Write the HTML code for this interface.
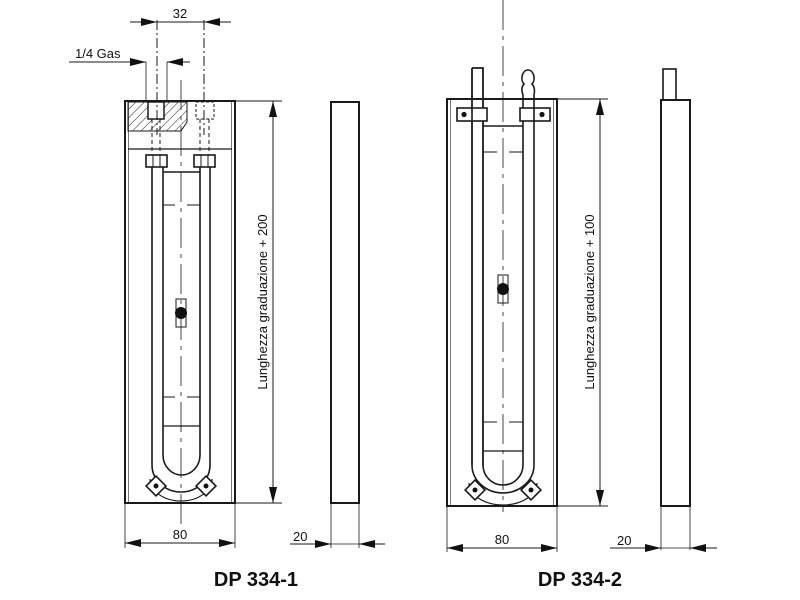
<!DOCTYPE html>
<html><head><meta charset="utf-8"><style>
html,body{margin:0;padding:0;background:#fff;width:800px;height:600px;overflow:hidden}
svg text{font-family:"Liberation Sans",Arial,sans-serif;fill:#111}
</style></head><body>
<svg width="800" height="600" viewBox="0 0 800 600" xmlns="http://www.w3.org/2000/svg">
<defs>
<pattern id="h" width="6" height="6" patternUnits="userSpaceOnUse" patternTransform="rotate(45)">
<line x1="0" y1="0" x2="0" y2="6" stroke="#222" stroke-width="1"/></pattern>
<marker id="a" viewBox="0 0 10 10" refX="10" refY="5" markerWidth="16" markerHeight="9" markerUnits="userSpaceOnUse" orient="auto-start-reverse" preserveAspectRatio="none"><path d="M0,0.5 L10,5 L0,9.5 z" fill="#111"/></marker>
</defs>
<g fill="none" stroke="#1a1a1a">
<!-- ===== DP 334-1 ===== -->
<rect x="125" y="101" width="110" height="402" stroke-width="2"/>
<line x1="128.5" y1="102" x2="128.5" y2="502" stroke-width="1" stroke="#777"/>
<line x1="231.5" y1="102" x2="231.5" y2="502" stroke-width="1" stroke="#777"/>
<line x1="128" y1="149" x2="232" y2="149" stroke-width="1.2"/>
<path d="M128,102 H187 V122 L181,131 H128 Z" fill="url(#h)" stroke-width="1"/>
<rect x="148" y="102" width="16" height="17" fill="#fff" stroke-width="1.5"/>
<rect x="196" y="102" width="18" height="17" stroke-dasharray="3,2" stroke-width="1"/>
<g stroke-dasharray="4,3" stroke-width="1"><line x1="152" y1="119" x2="152" y2="155"/><line x1="160" y1="119" x2="160" y2="155"/><line x1="200" y1="119" x2="200" y2="155"/><line x1="209" y1="119" x2="209" y2="155"/></g>
<line x1="157" y1="20" x2="157" y2="135" stroke-dasharray="10,3,2,3" stroke-width="1"/>
<line x1="204" y1="20" x2="204" y2="135" stroke-dasharray="10,3,2,3" stroke-width="1"/>
<line x1="181" y1="80" x2="181" y2="525" stroke-dasharray="30,6,4,6" stroke-width="0.8"/>
<rect x="146" y="155" width="21" height="12" stroke-width="1.6"/><line x1="153" y1="155" x2="153" y2="167"/><line x1="160" y1="155" x2="160" y2="167"/>
<rect x="194" y="155" width="21" height="12" stroke-width="1.6"/><line x1="201" y1="155" x2="201" y2="167"/><line x1="208" y1="155" x2="208" y2="167"/>
<path d="M152,167 V465 A29,27 0 0 0 210,465 V167" stroke-width="1.6"/>
<path d="M163,167 V455 A18.5,20 0 0 0 200,455 V167" stroke-width="1.6"/>
<line x1="163" y1="172" x2="200" y2="172" stroke-width="1.6"/>
<line x1="163" y1="426" x2="200" y2="426" stroke-width="1.2"/>
<line x1="163" y1="205" x2="175" y2="205" stroke-width="1"/><line x1="187" y1="205" x2="200" y2="205" stroke-width="1"/>
<line x1="163" y1="397" x2="175" y2="397" stroke-width="1"/><line x1="187" y1="397" x2="200" y2="397" stroke-width="1"/>
<path d="M150,479 A31,22 0 0 0 212,479" stroke-width="1.2"/>
<g transform="translate(156,486) rotate(45)"><rect x="-7" y="-7" width="14" height="14" fill="#fff" stroke-width="1.6"/><circle r="2.5" fill="#111" stroke="none"/></g>
<g transform="translate(206,486) rotate(45)"><rect x="-7" y="-7" width="14" height="14" fill="#fff" stroke-width="1.6"/><circle r="2.5" fill="#111" stroke="none"/></g>
<rect x="176" y="299" width="10" height="28" stroke-width="1"/>
<circle cx="181" cy="313" r="6" fill="#111" stroke="none"/>
<line x1="235" y1="101" x2="282" y2="101" stroke-width="1"/>
<line x1="235" y1="503" x2="282" y2="503" stroke-width="1"/>
<line x1="273" y1="101" x2="273" y2="503" stroke-width="1" marker-start="url(#a)" marker-end="url(#a)"/>
<line x1="125" y1="503" x2="125" y2="548" stroke-width="0.8"/>
<line x1="235" y1="503" x2="235" y2="548" stroke-width="0.8"/>
<line x1="125" y1="543" x2="235" y2="543" stroke-width="1" marker-start="url(#a)" marker-end="url(#a)"/>
<line x1="130" y1="22" x2="157" y2="22" stroke-width="1" marker-end="url(#a)"/>
<line x1="157" y1="22" x2="204" y2="22" stroke-width="1"/>
<line x1="231" y1="22" x2="204" y2="22" stroke-width="1" marker-end="url(#a)"/>
<line x1="69" y1="62" x2="146" y2="62" stroke-width="1" marker-end="url(#a)"/>
<line x1="190" y1="62" x2="167" y2="62" stroke-width="1" marker-end="url(#a)"/>
<line x1="146" y1="62" x2="146" y2="102" stroke-width="0.8"/>
<line x1="167" y1="62" x2="167" y2="102" stroke-width="0.8"/>
<rect x="331" y="102" width="28" height="401" stroke-width="2"/>
<line x1="331" y1="503" x2="331" y2="548" stroke-width="0.8"/>
<line x1="359" y1="503" x2="359" y2="548" stroke-width="0.8"/>
<line x1="290" y1="544" x2="331" y2="544" stroke-width="1" marker-end="url(#a)"/>
<line x1="331" y1="544" x2="359" y2="544" stroke-width="0.8"/>
<line x1="385" y1="544" x2="359" y2="544" stroke-width="1" marker-end="url(#a)"/>

<!-- ===== DP 334-2 ===== -->
<rect x="447" y="99" width="110" height="407" stroke-width="2"/>
<line x1="450.5" y1="100" x2="450.5" y2="505" stroke-width="1" stroke="#777"/>
<line x1="553.5" y1="100" x2="553.5" y2="505" stroke-width="1" stroke="#777"/>
<line x1="503" y1="0" x2="503" y2="512" stroke-dasharray="30,6,4,6" stroke-width="0.8"/>
<path d="M472,68 H483 V465 M472,68 V465" stroke-width="1.8"/>
<path d="M483,465 A20,20 0 0 0 523,465" stroke-width="1.6"/>
<path d="M472,465 A31,28 0 0 0 534,465" stroke-width="1.6"/>
<path d="M523,465 V95 C521,90 522,86 524,84 C520,80 522,70 528,70 C534,70 536,80 532,84 C534,86 535,90 534,95 V465" stroke-width="1.6"/>
<line x1="483" y1="126" x2="523" y2="126" stroke-width="1.6"/>
<line x1="483" y1="451" x2="523" y2="451" stroke-width="1.2"/>
<line x1="483" y1="152" x2="497" y2="152" stroke-width="1"/><line x1="509" y1="152" x2="523" y2="152" stroke-width="1"/>
<line x1="483" y1="422" x2="497" y2="422" stroke-width="1"/><line x1="509" y1="422" x2="523" y2="422" stroke-width="1"/>
<rect x="457" y="108" width="30" height="13" fill="#fff" stroke-width="1.6"/><line x1="472" y1="108" x2="472" y2="121" stroke-width="1.6"/><circle cx="464" cy="114.5" r="2.6" fill="#111" stroke="none"/>
<rect x="520" y="108" width="30" height="13" fill="#fff" stroke-width="1.6"/><line x1="534" y1="108" x2="534" y2="121" stroke-width="1.6"/><circle cx="542" cy="114.5" r="2.6" fill="#111" stroke="none"/>
<path d="M469,483 A34,22 0 0 0 537,483" stroke-width="1.2"/>
<g transform="translate(475,490) rotate(45)"><rect x="-7" y="-7" width="14" height="14" fill="#fff" stroke-width="1.6"/><circle r="2.5" fill="#111" stroke="none"/></g>
<g transform="translate(531,490) rotate(45)"><rect x="-7" y="-7" width="14" height="14" fill="#fff" stroke-width="1.6"/><circle r="2.5" fill="#111" stroke="none"/></g>
<rect x="498" y="275" width="10" height="28" stroke-width="1"/>
<circle cx="503" cy="289" r="6" fill="#111" stroke="none"/>
<line x1="557" y1="99" x2="608" y2="99" stroke-width="1"/>
<line x1="557" y1="506" x2="608" y2="506" stroke-width="1"/>
<line x1="600" y1="99" x2="600" y2="506" stroke-width="1" marker-start="url(#a)" marker-end="url(#a)"/>
<line x1="447" y1="506" x2="447" y2="552" stroke-width="0.8"/>
<line x1="557" y1="506" x2="557" y2="552" stroke-width="0.8"/>
<line x1="447" y1="548" x2="557" y2="548" stroke-width="1" marker-start="url(#a)" marker-end="url(#a)"/>
<rect x="663" y="69" width="13" height="31" stroke-width="1.6"/>
<rect x="661" y="100" width="29" height="406" stroke-width="2"/>
<line x1="661" y1="506" x2="661" y2="550" stroke-width="0.8"/>
<line x1="690" y1="506" x2="690" y2="550" stroke-width="0.8"/>
<line x1="610" y1="548" x2="661" y2="548" stroke-width="1" marker-end="url(#a)"/>
<line x1="661" y1="548" x2="690" y2="548" stroke-width="0.8"/>
<line x1="717" y1="548" x2="690" y2="548" stroke-width="1" marker-end="url(#a)"/>
</g>
<text x="180" y="18" font-size="13" text-anchor="middle">32</text>
<text x="75" y="58" font-size="13">1/4 Gas</text>
<text x="180" y="539" font-size="13" text-anchor="middle">80</text>
<text x="293" y="541" font-size="13">20</text>
<text x="502" y="544" font-size="13" text-anchor="middle">80</text>
<text x="617" y="545" font-size="13">20</text>
<text transform="translate(267,302) rotate(-90)" font-size="13" text-anchor="middle">Lunghezza graduazione + 200</text>
<text transform="translate(594,302) rotate(-90)" font-size="13" text-anchor="middle">Lunghezza graduazione + 100</text>
<text x="256" y="586" font-size="20" font-weight="bold" text-anchor="middle">DP 334-1</text>
<text x="580" y="586" font-size="20" font-weight="bold" text-anchor="middle">DP 334-2</text>
</svg>
</body></html>
